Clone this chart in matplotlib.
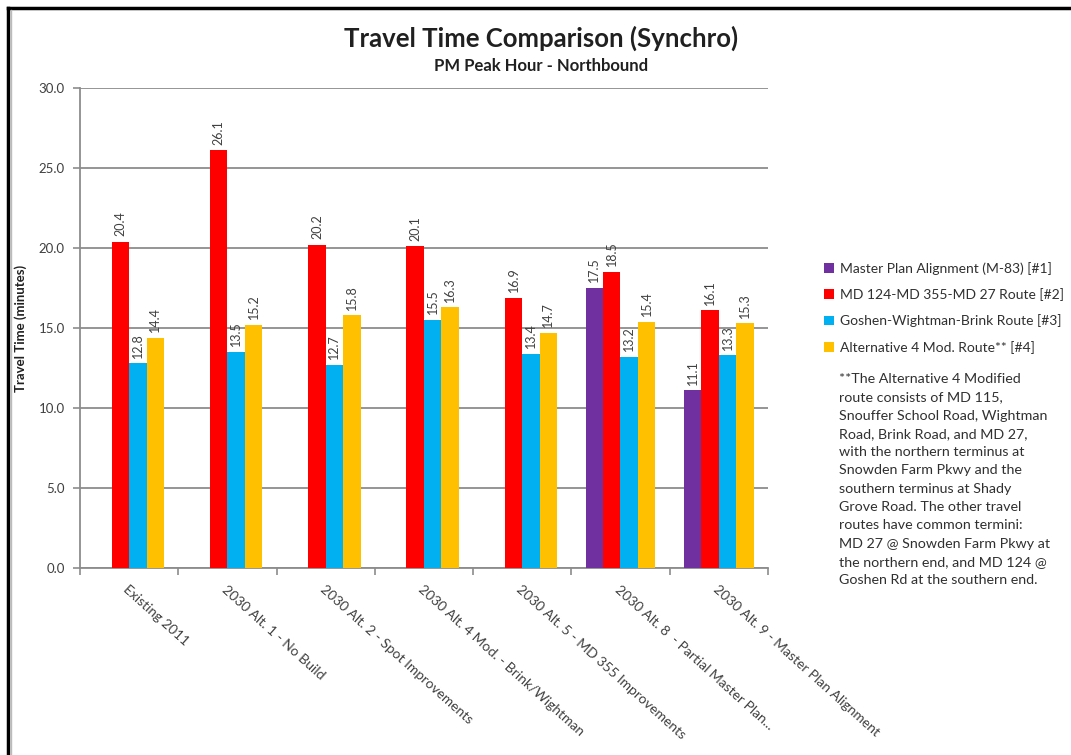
import matplotlib
matplotlib.use("Agg")
import matplotlib.pyplot as plt
import numpy as np
from matplotlib.lines import Line2D

plt.rcParams["font.family"] = ["Lato", "DejaVu Sans"]

categories = [
    "Existing 2011",
    "2030 Alt. 1 - No Build",
    "2030 Alt. 2 - Spot Improvements",
    "2030 Alt. 4 Mod. - Brink/Wightman",
    "2030 Alt. 5 - MD 355 Improvements",
    "2030 Alt. 8  - Partial Master Plan...",
    "2030 Alt. 9 - Master Plan Alignment",
]
series_names = [
    "Master Plan Alignment (M-83) [#1]",
    "MD 124-MD 355-MD 27 Route [#2]",
    "Goshen-Wightman-Brink Route [#3]",
    "Alternative 4 Mod. Route** [#4]",
]
master_plan = [None, None, None, None, None, 17.5, 11.1]
md124_route = [20.4, 26.1, 20.2, 20.1, 16.9, 18.5, 16.1]
goshen_route = [12.8, 13.5, 12.7, 15.5, 13.4, 13.2, 13.3]
alt4_route = [14.4, 15.2, 15.8, 16.3, 14.7, 15.4, 15.3]
colors = ["#7030A0", "#FF0000", "#00B0F0", "#FFC000"]

note = (
    "**The Alternative 4 Modified\n"
    "route consists of MD 115,\n"
    "Snouffer School Road, Wightman\n"
    "Road, Brink Road, and MD 27,\n"
    "with the northern terminus at\n"
    "Snowden Farm Pkwy and the\n"
    "southern terminus at Shady\n"
    "Grove Road. The other travel\n"
    "routes have common termini:\n"
    "MD 27 @ Snowden Farm Pkwy at\n"
    "the northern end, and MD 124 @\n"
    "Goshen Rd at the southern end."
)

fig = plt.figure(figsize=(10.71, 7.55), dpi=100)
ax = fig.add_axes([0.0747, 0.2477, 0.6423, 0.6357])

x = np.arange(len(categories))
width = 0.178
all_series = [master_plan, md124_route, goshen_route, alt4_route]
handles = []
for i, (vals, color, name) in enumerate(zip(all_series, colors, series_names)):
    offs = (i - 1.5) * width
    xs = [xi + offs for xi, v in zip(x, vals) if v is not None]
    ys = [v for v in vals if v is not None]
    bars = ax.bar(xs, ys, width=width, color=color, label=name, zorder=3)
    handles.append(bars)
    for xi, v in zip(xs, ys):
        ax.text(xi, v + 0.35, f"{v:.1f}", rotation=90, ha="center", va="bottom",
                fontsize=9, color="#404040", zorder=4)

ax.set_xlim(-0.5, len(categories) - 0.5)
ax.set_ylim(0, 30)
ax.set_yticks(np.arange(0, 30.1, 5))
ax.set_yticklabels([f"{v:.1f}" for v in np.arange(0, 30.1, 5)], fontsize=9.5, color="#404040")
ax.yaxis.grid(True, color="#8C8C8C", linewidth=1.3, zorder=0)
ax.set_axisbelow(True)

ax.set_xticks(x)
ax.set_xticklabels(categories, rotation=-42, ha="left", va="top",
                   rotation_mode="anchor", fontsize=10, color="#404040")
ax.tick_params(axis="x", length=0, pad=11)
ax.set_xticks(np.arange(-0.5, len(categories)), minor=True)
ax.tick_params(axis="x", which="minor", length=5, color="#8C8C8C", width=1.2)
ax.tick_params(axis="y", length=5, color="#8C8C8C", width=1.2, pad=6)
for side in ["top", "right"]:
    ax.spines[side].set_visible(False)
for side in ["left", "bottom"]:
    ax.spines[side].set_color("#8C8C8C")
    ax.spines[side].set_linewidth(1.3)

ax.set_ylabel("Travel Time (minutes)", fontsize=9.5, fontweight="bold", color="#202020", labelpad=8)

fig.text(0.505, 0.949, "Travel Time Comparison (Synchro)", ha="center", va="center",
         fontsize=18.5, fontweight="bold", color="#202020")
fig.text(0.505, 0.913, "PM Peak Hour - Northbound", ha="center", va="center",
         fontsize=12, fontweight="bold", color="#202020")

fig.legend(handles=handles, loc="upper left", bbox_to_anchor=(0.758, 0.67),
           frameon=False, fontsize=10, handlelength=0.7, handleheight=0.7,
           handletextpad=0.4, labelspacing=0.97, labelcolor="#303030")

fig.text(0.783, 0.506, note, ha="left", va="top", fontsize=10.3, color="#303030",
         linespacing=1.63)

# frame lines along the left and top edges
fig.add_artist(Line2D([0.0075, 0.0075], [0, 0.99], color="black", linewidth=2.5,
                      transform=fig.transFigure))
fig.add_artist(Line2D([0.0075, 1.0], [0.99, 0.99], color="black", linewidth=2.5,
                      transform=fig.transFigure))
fig.add_artist(Line2D([0.0105, 0.0105], [0, 0.987], color="#BBBBBB", linewidth=1,
                      transform=fig.transFigure))

fig.savefig("out.png", dpi=100)
